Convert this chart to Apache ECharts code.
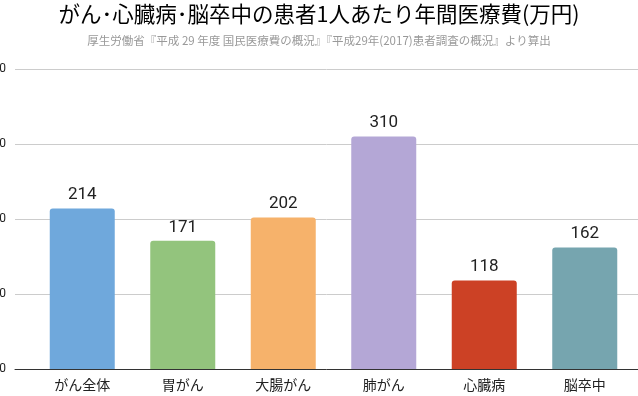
<!DOCTYPE html>
<html><head><meta charset="utf-8">
<script src="https://cdn.jsdelivr.net/npm/echarts@6/dist/echarts.min.js"></script>
<style>html,body{margin:0;padding:0;background:#fff}#c{width:638px;height:396px}</style>
</head><body><div id="c"></div>
<script>
const categories = ['がん全体','胃がん','大腸がん','肺がん','心臓病','脳卒中'];
const values = [214,171,202,310,118,162];
const colors = ['#6fa8dc','#93c47d','#f6b26b','#b4a7d6','#cc4125','#76a5af'];
const yMin = 0, yMax = 400, yStep = 100;
const titleText = 'がん･心臓病･脳卒中の患者1人あたり年間医療費(万円)';
const subText = '厚生労働省『平成 29 年度 国民医療費の概況』『平成29年(2017)患者調査の概況』より算出';
const font = '"Noto Sans CJK JP", "Noto Sans", Roboto, sans-serif';

const chart = echarts.init(document.getElementById('c'), null, {renderer:'canvas'});
chart.setOption({
  animation:false,
  textStyle:{fontFamily:font},
  title:{
    text:titleText, subtext:subText, left:'center', top:-2, itemGap:10,
    textStyle:{fontSize:21.5, fontWeight:'normal', color:'#000', fontFamily:font},
    subtextStyle:{fontSize:11.5, color:'#999', fontFamily:font}
  },
  grid:[
    {left:15, right:0, top:69, bottom:27, outerBoundsMode:'none', containLabel:false},
    {left:32, right:3, top:69, bottom:27, outerBoundsMode:'none', containLabel:false}
  ],
  xAxis:[
    {gridIndex:0, type:'category', data:[''], axisLine:{show:true, lineStyle:{color:'#333', width:1}}, axisTick:{show:false}, axisLabel:{show:false}},
    {gridIndex:1, type:'category', data:categories, axisLine:{show:false}, axisTick:{show:false},
     axisLabel:{margin:9, fontSize:14, color:'#222', fontFamily:font}}
  ],
  yAxis:[
    {gridIndex:0, type:'value', min:yMin, max:yMax, interval:yStep,
     axisLine:{show:false}, axisTick:{show:false},
     axisLabel:{margin:9, fontSize:12, color:'#222', fontFamily:'Roboto, sans-serif'},
     splitLine:{lineStyle:{color:'#ccc'}}},
    {gridIndex:1, type:'value', min:yMin, max:yMax, interval:yStep, show:false, splitLine:{show:false}}
  ],
  series:[{
    type:'bar', xAxisIndex:1, yAxisIndex:1, barWidth:65,
    data: values.map((v,i)=>({value:v, itemStyle:{color:colors[i], borderRadius:[3,3,0,0]}})),
    label:{show:true, position:'top', distance:5, fontSize:17, color:'#222', fontFamily:'Roboto, sans-serif'}
  }]
});
</script></body></html>
